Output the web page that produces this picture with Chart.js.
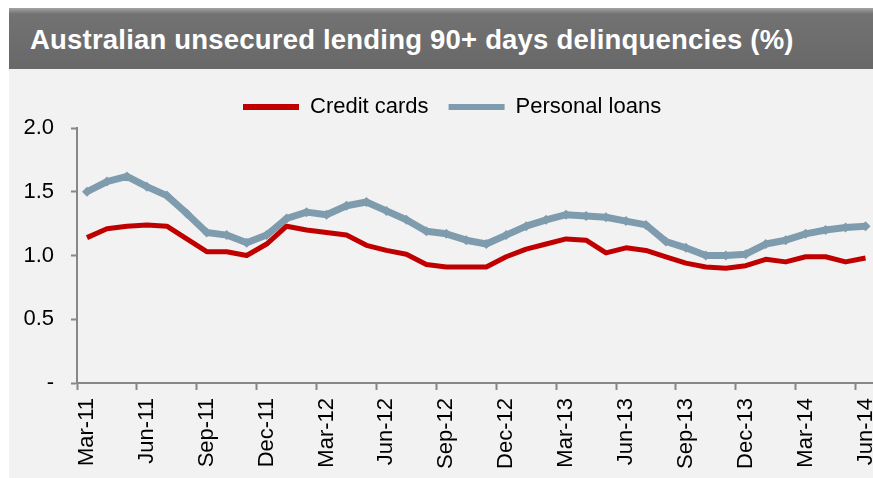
<!DOCTYPE html>
<html>
<head>
<meta charset="utf-8">
<script src="https://cdn.jsdelivr.net/npm/chart.js@4.4.1/dist/chart.umd.min.js"></script>
<style>
  html, body { margin: 0; padding: 0; background: #ffffff; overflow: hidden; }
  body { width: 873px; height: 478px; position: relative; font-family: "Liberation Sans", Arial, sans-serif; }
  #header {
    position: absolute; left: 9px; top: 8px; width: 900px; height: 61px;
    background: linear-gradient(to bottom, #a4a4a4 0px, #8a8a8a 3px, #727272 6px, #6c6c6c 40px, #686868 61px);
  }
  #header h1 {
    margin: 0; position: absolute; left: 21px; top: 16px;
    color: #ffffff; font-size: 27.5px; font-weight: bold; letter-spacing: 0.2px; white-space: nowrap;
  }
  #panel { position: absolute; left: 9px; top: 69px; width: 900px; height: 420px; background: #f2f2f2; }
  #wrap { position: absolute; left: 0; top: 69px; width: 900px; height: 409px; }
</style>
</head>
<body>
<div id="header"><h1>Australian unsecured lending 90+ days delinquencies (%)</h1></div>
<div id="panel"></div>
<div id="wrap"><canvas id="chart"></canvas></div>
<script>
// ==========================================
// DATA
// ==========================================
const months = [
  'Mar-11', 'Apr-11', 'May-11', 'Jun-11', 'Jul-11', 'Aug-11', 'Sep-11', 'Oct-11', 'Nov-11', 'Dec-11',
  'Jan-12', 'Feb-12', 'Mar-12', 'Apr-12', 'May-12', 'Jun-12', 'Jul-12', 'Aug-12', 'Sep-12', 'Oct-12',
  'Nov-12', 'Dec-12', 'Jan-13', 'Feb-13', 'Mar-13', 'Apr-13', 'May-13', 'Jun-13', 'Jul-13', 'Aug-13',
  'Sep-13', 'Oct-13', 'Nov-13', 'Dec-13', 'Jan-14', 'Feb-14', 'Mar-14', 'Apr-14', 'May-14', 'Jun-14'
];
// tick labels shown on the axis (every quarter)
const shownLabels = ['Mar-11', 'Jun-11', 'Sep-11', 'Dec-11', 'Mar-12', 'Jun-12', 'Sep-12', 'Dec-12',
  'Mar-13', 'Jun-13', 'Sep-13', 'Dec-13', 'Mar-14', 'Jun-14'];

const creditCards = [
  1.14, 1.21, 1.23, 1.24, 1.23, 1.13, 1.03, 1.03, 1.00, 1.09,
  1.23, 1.20, 1.18, 1.16, 1.08, 1.04, 1.01, 0.93, 0.91, 0.91,
  0.91, 0.99, 1.05, 1.09, 1.13, 1.12, 1.02, 1.06, 1.04, 0.99,
  0.94, 0.91, 0.90, 0.92, 0.97, 0.95, 0.99, 0.99, 0.95, 0.98
];
const personalLoans = [
  1.50, 1.58, 1.62, 1.54, 1.47, 1.33, 1.18, 1.16, 1.10, 1.16,
  1.29, 1.34, 1.32, 1.39, 1.42, 1.35, 1.28, 1.19, 1.17, 1.12,
  1.09, 1.16, 1.23, 1.28, 1.32, 1.31, 1.30, 1.27, 1.24, 1.11,
  1.06, 1.00, 1.00, 1.01, 1.09, 1.12, 1.17, 1.20, 1.22, 1.23
];
const yTicks = [0, 0.5, 1.0, 1.5, 2.0];

// ==========================================
// CHART SETUP
// ==========================================
const RED = '#c00000';
const STEEL = '#7f9cae';
const AXIS = '#878787';
const FONT = "'Liberation Sans', Arial, sans-serif";

const ctx = document.getElementById('chart').getContext('2d');

const chart = new Chart(ctx, {
  type: 'line',
  data: {
    labels: months,
    datasets: [
      {
        label: 'Credit cards',
        data: creditCards,
        borderColor: RED,
        backgroundColor: RED,
        borderWidth: 5,
        pointRadius: 0,
        tension: 0,
        borderJoinStyle: 'round',
        order: 1
      },
      {
        label: 'Personal loans',
        data: personalLoans,
        borderColor: STEEL,
        backgroundColor: STEEL,
        borderWidth: 7,
        pointStyle: 'rectRot',
        pointRadius: 5,
        pointBorderWidth: 0,
        tension: 0,
        borderJoinStyle: 'round',
        order: 2
      }
    ]
  },
  options: {
    responsive: true,
    maintainAspectRatio: false,
    animation: false,
    layout: { padding: { left: 0, right: 0, top: 7, bottom: 0 } },
    plugins: {
      tooltip: { enabled: false },
      legend: {
        display: true,
        position: 'top',
        align: 'start',
        labels: {
          color: '#000000',
          font: { family: FONT, size: 22 },
          boxWidth: 56,
          boxHeight: 6,
          padding: 20,
          generateLabels: (c) => c.data.datasets.map((ds, i) => ({
            text: ds.label,
            fillStyle: ds.borderColor,
            strokeStyle: ds.borderColor,
            lineWidth: 0,
            datasetIndex: i
          }))
        }
      }
    },
    scales: {
      x: {
        type: 'category',
        offset: true,
        afterFit: (s) => { s.height = 95; },
        grid: {
          offset: true,
          drawOnChartArea: false,
          tickLength: 7,
          tickWidth: 2,
          tickColor: (c) => (c.index % 3 === 0 ? AXIS : 'rgba(0,0,0,0)')
        },
        border: { color: AXIS, width: 2 },
        ticks: {
          autoSkip: false,
          minRotation: 90,
          maxRotation: 90,
          padding: 8,
          color: '#000000',
          font: { family: FONT, size: 22 },
          callback: (v, i) => (shownLabels.includes(months[i]) ? months[i] : '')
        }
      },
      y: {
        min: 0,
        max: 2,
        afterBuildTicks: (s) => { s.ticks = yTicks.map(v => ({ value: v })); },
        afterFit: (s) => { s.width = 77; },
        grid: {
          drawOnChartArea: false,
          tickLength: 6,
          tickWidth: 2,
          tickColor: AXIS
        },
        border: { color: AXIS, width: 2 },
        ticks: {
          padding: 17,
          color: '#000000',
          font: { family: FONT, size: 22 },
          callback: (v) => (v === 0 ? '-' : v.toFixed(1))
        }
      }
    }
  },
  plugins: [{
    id: 'legendPlace',
    // move the legend to where the original has it
    afterUpdate(c) {
      const lg = c.legend;
      if (!lg) return;
      const dx = 243 - lg.legendHitBoxes[0].left;
      const dy = 96 - 69 - lg.legendHitBoxes[0].top;
      lg.legendHitBoxes.forEach(b => { b.left += dx; b.top += dy; });
      lg.left += dx; lg.top += dy;
    }
  }]
});
</script>
</body>
</html>
